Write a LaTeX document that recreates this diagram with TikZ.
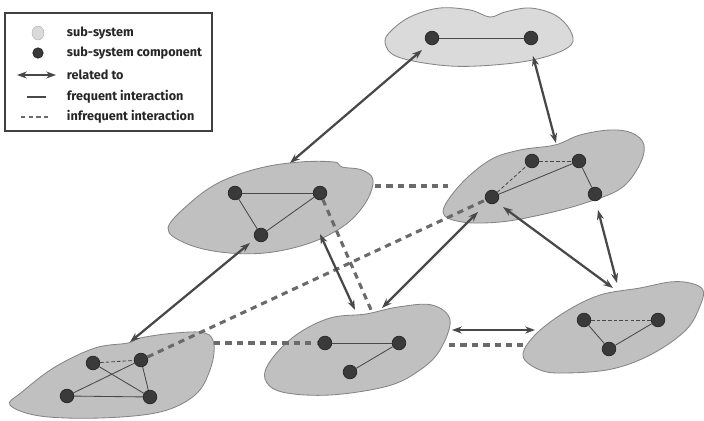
\documentclass[tikz,border=0pt]{standalone}
\usepackage{fontspec}
\setmainfont{Fira Sans}
\usetikzlibrary{arrows.meta}
\definecolor{blobgrey}{HTML}{C0C0C0}
\definecolor{blobpale}{HTML}{DADADA}
\definecolor{blobedge}{HTML}{858585}
\definecolor{compdark}{HTML}{3A3A3A}
\definecolor{linkgrey}{HTML}{484848}
\definecolor{dashgrey}{HTML}{6A6A6A}
\tikzset{
  blob/.style={fill=blobgrey, draw=blobedge, line width=0.6pt},
  comp/.style={circle, fill=compdark, draw=black!85, line width=0.5pt,
    minimum size=0.34cm, inner sep=0pt},
  freq/.style={linkgrey, line width=0.6pt},
  infreq/.style={linkgrey, line width=0.6pt, dash pattern=on 2.5pt off 1.5pt},
  related/.style={linkgrey, line width=1.6pt,
    {Stealth[length=7pt,width=5pt]}-{Stealth[length=7pt,width=5pt]}},
  rare/.style={dashgrey, line width=2.2pt, dash pattern=on 4.5pt off 3.6pt},
  legtext/.style={anchor=west, font=\bfseries\fontsize{9}{11}\selectfont, text=black!85}
}

\begin{document}
\begin{tikzpicture}[x=0.025cm, y=-0.025cm]
  \useasboundingbox (0,0) rectangle (704,421);

  % legend
  \draw[black!75, line width=0.8pt] (5,13) rectangle (212,131);
  \foreach \lab/\row in {sub-system/33, sub-system component/53, related to/75,
                         frequent interaction/97, infrequent interaction/117}{%
    \node[legtext] (leg\row) at (62,\row) {\lab};}
  \fill[blobpale, draw=blobpale!80!black, line width=0.3pt] (38,33) ellipse (6 and 7);
  \node[comp, minimum size=0.26cm] (legcomp) at (38,53) {};
  \coordinate (legrl) at (17,75);
  \coordinate (legrr) at (56,75);
  \draw[related, line width=1.1pt] (legrl) -- (legrr);
  \coordinate (legfl) at (27,97);
  \coordinate (legfr) at (46,97);
  \draw[freq, line width=0.9pt] (legfl) -- (legfr);
  \coordinate (legil) at (21,117);
  \coordinate (legir) at (51,117);
  \draw[rare, line width=1.4pt, dash pattern=on 3pt off 2.5pt] (legil) -- (legir);

  % sub-systems
  \draw[blob, fill=blobpale] plot[smooth cycle, tension=0.6] coordinates {
    (385,42) (398,57) (450,66) (505,64) (545,57) (571,45) (570,30)
    (555,15) (530,8) (505,12) (490,17) (470,10) (440,8) (412,16) (393,29)};
  \draw[blob] plot[smooth cycle, tension=0.6] coordinates {
    (168,228) (185,243) (220,252) (265,253) (310,243) (345,225) (366,202)
    (373,180) (362,170) (342,167) (334,162) (300,162) (260,168) (220,182) (190,203)};
  \draw[blob] plot[smooth cycle, tension=0.6] coordinates {
    (443,212) (462,222) (500,222) (540,215) (582,204) (620,189) (639,166)
    (644,145) (632,133) (610,130) (580,135) (555,145) (520,150) (490,160) (460,185)};
  \draw[blob] plot[smooth cycle, tension=0.6] coordinates {
    (10,405) (40,416) (100,418) (160,412) (195,395) (210,370) (214,345)
    (205,333) (175,333) (140,338) (128,343) (95,348) (55,367) (22,392)};
  \draw[blob] plot[smooth cycle, tension=0.6] coordinates {
    (265,379) (282,392) (330,395) (388,386) (420,370) (440,350) (450,320)
    (432,305) (398,307) (366,314) (330,318) (296,335) (271,360)};
  \draw[blob] plot[smooth cycle, tension=0.6] coordinates {
    (523,356) (540,370) (565,373) (612,369) (652,354) (686,330) (700,306)
    (703,290) (690,283) (670,282) (640,288) (600,295) (565,312) (535,335)};

  % components
  \foreach \n/\p in {t1/{432,38}, t2/{531,38},
                     a1/{235,193}, a2/{320,193}, a3/{261,235},
                     b1/{532,161}, b2/{579,161}, b3/{595,194}, b4/{492,197},
                     c1/{93,363}, c2/{141,360}, c3/{67,396}, c4/{150,397},
                     d1/{325,343}, d2/{399,343}, d3/{350,372},
                     e1/{584,320}, e2/{658,320}, e3/{609,349}}{%
    \node[comp] (\n) at (\p) {};}

  % infrequent interactions
  \coordinate (ar) at (375,186);
  \coordinate (bl) at (448,186);
  \coordinate (dt) at (372,312);
  \coordinate (cr) at (214,343);
  \coordinate (dr) at (449,345);
  \coordinate (el) at (523,345);
  \draw[rare] (ar) -- (bl);
  \draw[rare] (a2) -- (dt);
  \draw[rare] (c2) -- (b4);
  \draw[rare] (cr) -- (d1);
  \draw[rare] (dr) -- (el);

  % related to
  \foreach \u/\v/\pu/\pv in {ra/rb/{290,163}/{422,50}, rc/rd/{533,56}/{556,143},
                             re/rf/{130,342}/{250,243}, rg/rh/{320,234}/{355,310},
                             ri/rj/{382,308}/{478,212}, rk/rl/{503,207}/{613,288},
                             rm/rn/{598,210}/{617,283}, ro/rp/{452,330}/{535,330}}{%
    \coordinate (\u) at (\pu);
    \coordinate (\v) at (\pv);
    \draw[related] (\u) -- (\v);}

  % links inside the sub-systems
  \foreach \a/\b in {t1/t2, a1/a2, a1/a3, a2/a3, b4/b2, b2/b3, c1/c4, c3/c2,
                     c3/c4, c2/c4, d1/d2, d3/d2, e1/e3, e3/e2}{%
    \draw[freq] (\a) -- (\b);}
  \foreach \a/\b in {b1/b2, b4/b1, c1/c2, e1/e2}{%
    \draw[infreq] (\a) -- (\b);}
\end{tikzpicture}
\end{document}
